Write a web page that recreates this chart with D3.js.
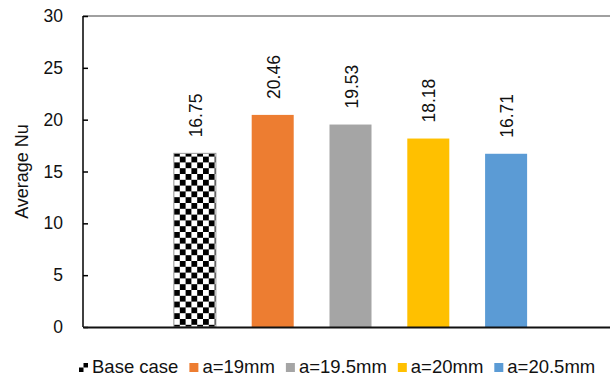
<!DOCTYPE html>
<html>
<head>
<meta charset="utf-8">
<script src="https://cdn.jsdelivr.net/npm/d3@7"></script>
<style>
  body { margin: 0; background: #fff; }
  text { font-family: "Liberation Sans", Arial, sans-serif; }
</style>
</head>
<body>
<svg id="chart" width="610" height="377"></svg>
<script>
const categories = ["Base case", "a=19mm", "a=19.5mm", "a=20mm", "a=20.5mm"];
const values = [16.75, 20.46, 19.53, 18.18, 16.71];
const colors = ["pattern", "#ED7D31", "#A5A5A5", "#FFC000", "#5B9BD5"];
const yTicks = [0, 5, 10, 15, 20, 25, 30];
const yTitle = "Average Nu";

const svg = d3.select("#chart");
const defs = svg.append("defs");
const pat = defs.append("pattern").attr("id", "checker")
  .attr("patternUnits", "userSpaceOnUse")
  .attr("width", 11.6).attr("height", 11.6);
pat.append("rect").attr("width", 11.6).attr("height", 11.6).attr("fill", "#fff");
pat.append("rect").attr("width", 5.8).attr("height", 5.8).attr("fill", "#000");
pat.append("rect").attr("x", 5.8).attr("y", 5.8).attr("width", 5.8).attr("height", 5.8).attr("fill", "#000");

const mLeft = 83, mRight = 610, mTop = 16, mBottom = 327;
const y = d3.scaleLinear().domain([0, 30]).range([mBottom, mTop]);
const x = d3.scaleBand().domain(categories).range([156, 545]).paddingInner(0.46).paddingOuter(0.23);
const fillOf = (i) => colors[i] === "pattern" ? "url(#checker)" : colors[i];

// top gridline
svg.append("line").attr("x1", mLeft).attr("x2", mRight)
  .attr("y1", y(30)).attr("y2", y(30)).attr("stroke", "#808080").attr("stroke-width", 1.5);

// bars
svg.selectAll("rect.bar").data(values).enter().append("rect")
  .attr("class", "bar")
  .attr("x", (d, i) => x(categories[i]))
  .attr("y", d => y(d))
  .attr("width", x.bandwidth())
  .attr("height", d => y(0) - y(d))
  .attr("fill", (d, i) => fillOf(i))
  .attr("stroke", (d, i) => colors[i] === "pattern" ? "#999" : "none")
  .attr("stroke-width", 1);

// value labels
svg.selectAll("text.val").data(values).enter().append("text")
  .attr("class", "val")
  .attr("transform", (d, i) => `translate(${x(categories[i]) + x.bandwidth() / 2 + 1},${y(d) - 16}) rotate(-90)`)
  .attr("dy", "0.35em")
  .attr("text-anchor", "start")
  .attr("font-size", 17.5)
  .attr("fill", "#111")
  .text(d => d.toFixed(2));

// y axis
const yAxis = d3.axisLeft(y).tickValues(yTicks).tickSize(-5).tickPadding(20).tickFormat(d3.format("d"));
const ga = svg.append("g").attr("transform", `translate(${mLeft},0)`).call(yAxis);
ga.select(".domain").attr("stroke", "#000").attr("stroke-width", 1.5).attr("d", `M0,${mTop}V${mBottom}`);
ga.selectAll(".tick line").attr("stroke", "#000").attr("stroke-width", 1.5);
ga.selectAll(".tick text").attr("font-size", 17.5).attr("fill", "#111")
  .attr("font-family", '"Liberation Sans", Arial, sans-serif');

// x axis line
const xAxisScale = d3.scaleLinear().domain([0, 1]).range([mLeft, mRight]);
const gx = svg.append("g").attr("transform", `translate(0,${mBottom})`)
  .call(d3.axisBottom(xAxisScale).tickValues([]).tickSizeOuter(0));
gx.select(".domain").attr("stroke", "#111").attr("stroke-width", 2);

// y title
svg.append("text")
  .attr("transform", `translate(22,${(mTop + mBottom) / 2}) rotate(-90)`)
  .attr("dy", "0.35em")
  .attr("text-anchor", "middle")
  .attr("font-size", 18)
  .attr("fill", "#111")
  .text(yTitle);

// legend
const lg = svg.append("g");
let cx = 79;
const ly = 373;
categories.forEach((c, i) => {
  lg.append("rect").attr("x", cx).attr("y", ly - 10).attr("width", 9).attr("height", 9)
    .attr("fill", colors[i] === "pattern" ? "none" : colors[i]);
  if (colors[i] === "pattern") {
    lg.append("rect").attr("x", cx + 4.5).attr("y", ly - 10).attr("width", 4.5).attr("height", 4.5).attr("fill", "#000");
    lg.append("rect").attr("x", cx).attr("y", ly - 5.5).attr("width", 4.5).attr("height", 4.5).attr("fill", "#000");
  }
  const t = lg.append("text").attr("x", cx + 13).attr("y", ly)
    .attr("font-size", 18.5).attr("fill", "#111").text(c);
  const w = t.node().getComputedTextLength();
  cx = cx + 13 + w + 11;
});
</script>
</body>
</html>
